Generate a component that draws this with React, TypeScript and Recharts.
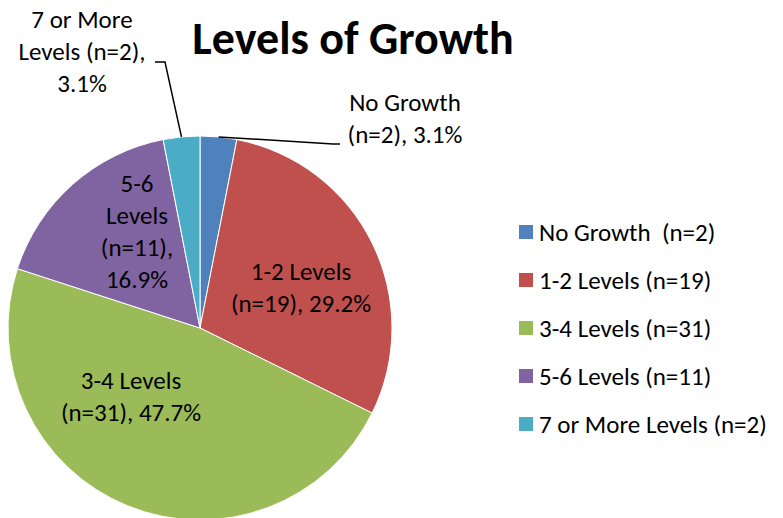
import React from "react";
import { PieChart, Pie, Cell, Legend } from "recharts";

const categories = ["No Growth", "1-2 Levels", "3-4 Levels", "5-6 Levels", "7 or More Levels"];
const counts = [2, 19, 31, 11, 2];
const legendSeparators = ["  ", " ", " ", " ", " "];
const colors = ["#4F81BD", "#C0504D", "#9BBB59", "#8064A2", "#4BACC6"];
const title = "Levels of Growth";

const total = counts.reduce((a, b) => a + b, 0);
const data = categories.map((c, i) => ({ name: c, value: counts[i] }));

// label placement relative to pie centre (px), word-wrap groups and optional leader lines
const LABEL_LAYOUT = [
  { dx: 205, dy: -209.5, wrap: [2, 2], leader: [[133, -184], [140, -184]] },
  { dx: 101, dy: -40.5, wrap: [2, 2] },
  { dx: -69, dy: 68, wrap: [2, 2] },
  { dx: -63, dy: -97, wrap: [1, 1, 1, 1] },
  { dx: -118, dy: -276.5, wrap: [3, 2, 1], leader: [[-35, -266], [-45, -266]] },
];

const FONT = "Carlito, Calibri, Lato, sans-serif";
const LABEL_SIZE = 25;
const LINE_H = 32;
const RAD = Math.PI / 180;

const renderLabel = (props: any) => {
  const { cx, cy, midAngle, outerRadius, index, name, value } = props;
  const layout = LABEL_LAYOUT[index];
  const pct = ((value / total) * 100).toFixed(1);
  const words = `${name} (n=${value}), ${pct}%`.split(" ");
  const lines: string[] = [];
  let k = 0;
  for (const n of layout.wrap) {
    lines.push(words.slice(k, k + n).join(" "));
    k += n;
  }
  const x = cx + layout.dx;
  const y0 = cy + layout.dy;
  const N = lines.length;
  let leader = null;
  if (layout.leader) {
    const sx = cx + outerRadius * Math.cos(-midAngle * RAD);
    const sy = cy + outerRadius * Math.sin(-midAngle * RAD);
    const pts = [[sx, sy], ...layout.leader.map(([a, b]) => [cx + a, cy + b])];
    leader = (
      <polyline
        points={pts.map((p) => p.join(",")).join(" ")}
        fill="none"
        stroke="#000"
        strokeWidth={1.5}
      />
    );
  }
  return (
    <g key={`lab-${index}`}>
      {leader}
      {lines.map((ln, i) => (
        <text
          key={i}
          x={x}
          y={y0 + (i - (N - 1) / 2) * LINE_H}
          textAnchor="middle"
          dominantBaseline="central"
          fontFamily={FONT}
          fontSize={LABEL_SIZE}
          fill="#000"
        >
          {ln}
        </text>
      ))}
    </g>
  );
};

const renderLegend = () => (
  <div style={{ fontFamily: FONT, fontSize: LABEL_SIZE, color: "#000" }}>
    {categories.map((c, i) => (
      <div
        key={c}
        style={{ display: "flex", alignItems: "center", height: 48, whiteSpace: "pre" }}
      >
        <span
          style={{ width: 14, height: 14, background: colors[i], display: "inline-block", marginRight: 6 }}
        />
        <span>{`${c}${legendSeparators[i]}(n=${counts[i]})`}</span>
      </div>
    ))}
  </div>
);

export default function App() {
  return (
    <div style={{ position: "absolute", left: 0, top: 0, width: 783, height: 518, background: "#fff", overflow: "hidden" }}>
      <div
        style={{
          position: "absolute",
          left: 103,
          width: 500,
          top: 15,
          textAlign: "center",
          fontFamily: FONT,
          fontWeight: 700,
          fontSize: 46,
          lineHeight: "46px",
          color: "#000",
          zIndex: 2,
        }}
      >
        {title}
      </div>
      <PieChart width={783} height={518} margin={{ top: 0, right: 0, bottom: 0, left: 0 }}>
        <Pie
          data={data}
          dataKey="value"
          nameKey="name"
          cx={200}
          cy={328}
          outerRadius={192}
          startAngle={90}
          endAngle={-270}
          stroke="#fff"
          strokeWidth={1}
          label={renderLabel}
          labelLine={false}
          isAnimationActive={false}
        >
          {data.map((d, i) => (
            <Cell key={d.name} fill={colors[i]} />
          ))}
        </Pie>
        <Legend
          layout="vertical"
          align="right"
          verticalAlign="top"
          content={renderLegend}
          wrapperStyle={{ position: "absolute", left: 519, top: 208, width: 264 }}
        />
      </PieChart>
    </div>
  );
}
